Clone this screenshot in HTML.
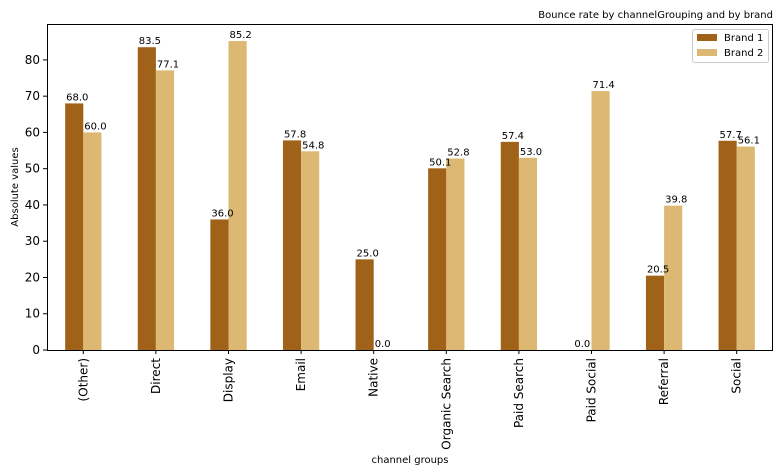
<!DOCTYPE html>
<html><head><meta charset="utf-8"><style>
html,body{margin:0;padding:0;background:#fff;}
svg{display:block;font-family:"DejaVu Sans","Liberation Sans",sans-serif;}
</style></head><body>
<svg id="chart" width="783" height="474">
<text x="773" y="18" font-size="10" text-anchor="end" fill="#000">Bounce rate by channelGrouping and by brand</text>
<g id="bars"></g>
<g id="labels"></g>
<g id="axes"></g>
<text x="410" y="463" font-size="10" text-anchor="middle">channel groups</text>
<text transform="translate(18,187) rotate(-90)" font-size="10" text-anchor="middle">Absolute values</text>
<g>
<rect x="692.5" y="29.5" width="76" height="33" fill="#fff" stroke="#ccc" rx="2"/>
<rect x="697" y="34" width="20" height="7" fill="#a06218"/>
<text x="724" y="41" font-size="10">Brand 1</text>
<rect x="697" y="49" width="20" height="7" fill="#dcb872"/>
<text x="724" y="56" font-size="10">Brand 2</text>
</g>
</svg>
<script>
const categories=["(Other)","Direct","Display","Email","Native","Organic Search","Paid Search","Paid Social","Referral","Social"];
const brand1=[68.0,83.5,36.0,57.8,25.0,50.1,57.4,0.0,20.5,57.7];
const brand2=[60.0,77.1,85.2,54.8,0.0,52.8,53.0,71.4,39.8,56.1];
const yTicks=[0,10,20,30,40,50,60,70,80];
const L=47,R=773,T=24,B=350,YMAX=89.9;
const NS="http://www.w3.org/2000/svg";
const bw=(R-L)/categories.length;
const xc=i=>L+bw*(i+0.5);
const y=v=>B-(v/YMAX)*(B-T);
function mk(tag,attrs,parent){const e=document.createElementNS(NS,tag);for(const k in attrs)e.setAttribute(k,attrs[k]);parent.appendChild(e);return e;}
const bars=document.getElementById('bars'),labels=document.getElementById('labels'),axes=document.getElementById('axes');
const w=bw*0.25;
[[brand1,'#a06218',-1,'brand-1'],[brand2,'#dcb872',0,'brand-2']].forEach(([s,c,off,nm])=>{
 s.forEach((v,i)=>{
  const x0=xc(i)+off*w;
  const r=mk('rect',{x:x0,y:y(v),width:w,height:B-y(v),fill:c},bars);
  
  
  const t=mk('text',{x:x0+1,y:y(v)-3,'font-size':10},labels);
  t.textContent=v.toFixed(1);
  
  
 });
});
const frame=mk('rect',{x:L+0.5,y:T+0.5,width:R-L-1,height:B-T,fill:'none',stroke:'#000','stroke-width':1},axes);


yTicks.forEach(v=>{
 mk('line',{x1:L-4,x2:L,y1:y(v),y2:y(v),stroke:'#000'},axes);
 const t=mk('text',{x:L-7,y:y(v)+4,'font-size':12,'text-anchor':'end'},axes);
 t.textContent=v;
 
 
});
categories.forEach((c,i)=>{
 mk('line',{x1:xc(i),x2:xc(i),y1:B,y2:B+4,stroke:'#000'},axes);
 const t=mk('text',{transform:`translate(${xc(i)+4},${B+8}) rotate(-90)`,'font-size':12,'text-anchor':'end'},axes);
 t.textContent=c;
 
 
});
</script>
</body></html>
